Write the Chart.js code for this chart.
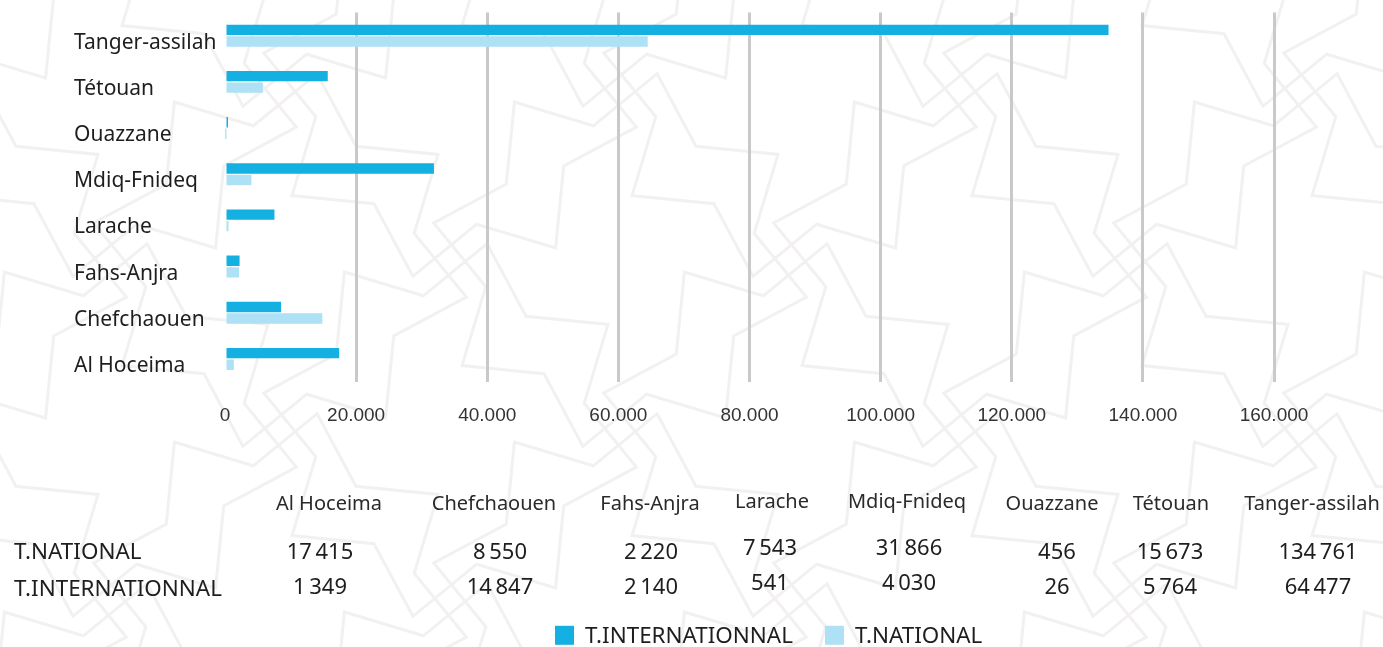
<!DOCTYPE html>
<html>
<head>
<meta charset="utf-8">
<title>Trafic par province</title>
<script src="https://cdn.jsdelivr.net/npm/chart.js"></script>
<style>
  html, body { margin: 0; padding: 0; }
  body {
    width: 1383px; height: 647px; position: relative; overflow: hidden;
    background: #fff; font-family: "Noto Sans", sans-serif; color: #1e1e1e;
  }
  #bg, #wrap { position: absolute; left: 0; top: 0; width: 1383px; height: 647px; }
  .cell { position: absolute; transform: translate(-50%, -50%); white-space: nowrap; }
  .head { font-size: 20px; color: #2a2a2a; }
  .num { font-size: 22px; }
  .rowlab { position: absolute; left: 14px; transform: translateY(-50%); font-size: 22.4px; white-space: nowrap; }
  #legend { position: absolute; left: 555px; top: 635px; transform: translateY(-50%); display: flex; align-items: center; font-size: 22.4px; line-height: 1; white-space: nowrap; }
  #legend .box { width: 19px; height: 19px; display: inline-block; margin-right: 11px; }
  #legend .item { display: flex; align-items: center; margin-right: 32px; }
</style>
</head>
<body>
<svg id="bg" width="1383" height="647"></svg>
<div id="wrap"><canvas id="chart" width="1383" height="647"></canvas></div>
<div id="table"></div>
<div id="legend"></div>
<script>
// table columns, left to right (same order as the source table)
const provinces = ["Al Hoceima", "Chefchaouen", "Fahs-Anjra", "Larache", "Mdiq-Fnideq", "Ouazzane", "Tétouan", "Tanger-assilah"];
const tNational = [17415, 8550, 2220, 7543, 31866, 456, 15673, 134761];
const tInternational = [1349, 14847, 2140, 541, 4030, 26, 5764, 64477];
const xTicks = [0, 20000, 40000, 60000, 80000, 100000, 120000, 140000, 160000];

// where the table text sits on the page
const headX = [329, 494, 650, 772, 907, 1052, 1171, 1312];
const numX = [320, 500, 651, 770, 909, 1057, 1170, 1318];
const rowShift = [0, 0, 0, -4, -4, 0, 0, 0];

const DARK = "#14b0e1";
const LIGHT = "#aee1f6";

// the original chart draws the national figures with the dark colour,
// though its legend calls that colour T.INTERNATIONNAL
const barLabels = provinces.slice().reverse();
const darkBars = tNational.slice().reverse();
const lightBars = tInternational.slice().reverse();

function dots(v) { return String(v).replace(/\B(?=(\d{3})+(?!\d))/g, "."); }
function spaces(v) { return String(v).replace(/\B(?=(\d{3})+(?!\d))/g, "\u2009"); }

// faint star pattern in the background
(function () {
  const svg = document.getElementById("bg");
  let html = "";
  const step = 340;
  for (let cy = -80; cy < 820; cy += step) {
    for (let cx = -60; cx < 1520; cx += step) {
      for (const [ox, oy, r] of [[0, 0, 190], [170, 170, 190]]) {
        const pts = [];
        for (let k = 0; k < 16; k++) {
          const a = Math.PI / 8 * k + Math.PI / 16;
          const rr = k % 2 === 0 ? r : r * 0.72;
          pts.push((cx + ox + rr * Math.cos(a)).toFixed(1) + "," + (cy + oy + rr * Math.sin(a)).toFixed(1));
        }
        html += `<polygon points="${pts.join(" ")}" fill="none" stroke="#f3f0f0" stroke-width="3"/>`;
      }
    }
  }
  svg.innerHTML = html;
})();

new Chart(document.getElementById("chart"), {
  type: "bar",
  data: {
    labels: barLabels,
    datasets: [
      { label: "T.INTERNATIONNAL", data: darkBars, backgroundColor: DARK, barPercentage: 0.9, categoryPercentage: 0.5 },
      { label: "T.NATIONAL", data: lightBars, backgroundColor: LIGHT, barPercentage: 0.9, categoryPercentage: 0.5 }
    ]
  },
  options: {
    indexAxis: "y",
    responsive: false,
    animation: false,
    layout: { padding: { left: 74, right: 109, top: 10, bottom: 0 } },
    plugins: { legend: { display: false }, tooltip: { enabled: false } },
    scales: {
      x: {
        min: 0,
        max: 160000,
        afterBuildTicks: (s) => { s.ticks = xTicks.map((v) => ({ value: v })); },
        ticks: { callback: (v) => dots(v), font: { family: "'Liberation Sans'", size: 19 }, color: "#333", padding: 22, maxRotation: 0 },
        grid: { color: (c) => (c.tick && c.tick.value === 0 ? "rgba(0,0,0,0)" : "#c9c9c9"), lineWidth: 3, drawTicks: false },
        border: { display: false },
        afterFit: (s) => { s.height = 265; }
      },
      y: {
        ticks: { crossAlign: "far", labelOffset: 7, font: { family: "'Noto Sans'", size: 21 }, color: "#1e1e1e", padding: 0 },
        grid: { display: false },
        border: { display: false },
        afterFit: (s) => { s.width = 151; }
      }
    }
  }
});

// data table under the chart
const table = document.getElementById("table");
let t = "";
provinces.forEach((p, i) => {
  t += `<div class="cell head" style="left:${headX[i]}px;top:${502 + rowShift[i] / 2}px">${p}</div>`;
  t += `<div class="cell num" style="left:${numX[i]}px;top:${550 + rowShift[i]}px">${spaces(tNational[i])}</div>`;
  t += `<div class="cell num" style="left:${numX[i]}px;top:${585 + rowShift[i]}px">${spaces(tInternational[i])}</div>`;
});
t += `<div class="rowlab" style="top:550px">T.NATIONAL</div>`;
t += `<div class="rowlab" style="top:587px">T.INTERNATIONNAL</div>`;
table.innerHTML = t;

document.getElementById("legend").innerHTML =
  `<span class="item"><span class="box" style="background:${DARK}"></span>T.INTERNATIONNAL</span>` +
  `<span class="item"><span class="box" style="background:${LIGHT}"></span>T.NATIONAL</span>`;
</script>
</body>
</html>
